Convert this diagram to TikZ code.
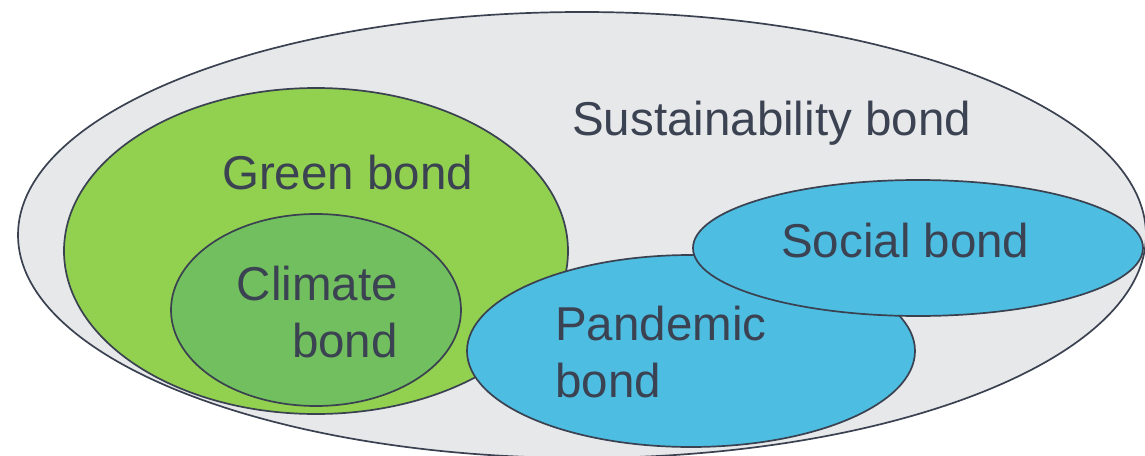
\documentclass[tikz,border=0pt]{standalone}
\usepackage{fontspec}
\setmainfont{Liberation Sans}
\usetikzlibrary{shapes.geometric}
\definecolor{bondline}{RGB}{58, 65, 80}
\definecolor{bondtext}{RGB}{59, 66, 82}
\definecolor{sustfill}{RGB}{231, 232, 234}
\definecolor{greenfill}{RGB}{146, 208, 80}
\definecolor{climatefill}{RGB}{113, 191, 94}
\definecolor{bluefill}{RGB}{77, 189, 225}

\begin{document}
\begin{tikzpicture}[x=1pt, y=-1pt,
    bubble/.style={draw=bondline, line width=1.7pt, ellipse, inner sep=0pt},
    label/.style={text=bondtext, inner sep=0pt, font=\fontsize{47.5}{57}\selectfont}]
    \useasboundingbox (0,0) rectangle (1145,455);
    \node[bubble, fill=sustfill, minimum width=1128pt, minimum height=446pt] (sust) at (582,235) {};
    \node[bubble, fill=greenfill, minimum width=504pt, minimum height=326pt] (green) at (316,251) {};
    \node[bubble, fill=climatefill, minimum width=290pt, minimum height=192pt] (climate) at (316,310) {};
    \node[bubble, fill=bluefill, minimum width=448pt, minimum height=192pt] (pandemic) at (691,351) {};
    \node[bubble, fill=bluefill, minimum width=450pt, minimum height=136pt] (social) at (918,248) {};

    \node[label, anchor=base west] (sustlabel) at (572,135) {Sustainability bond};
    \node[label, anchor=base west] (greenlabel) at (222,189) {Green bond};
    \node[label, anchor=base east, align=right] (climatelabel) at (398,357) {Climate\\bond};
    \node[label, anchor=base west, align=left] (pandemiclabel) at (555,397) {Pandemic\\bond};
    \node[label, anchor=base west] (sociallabel) at (781,257) {Social bond};
\end{tikzpicture}
\end{document}
